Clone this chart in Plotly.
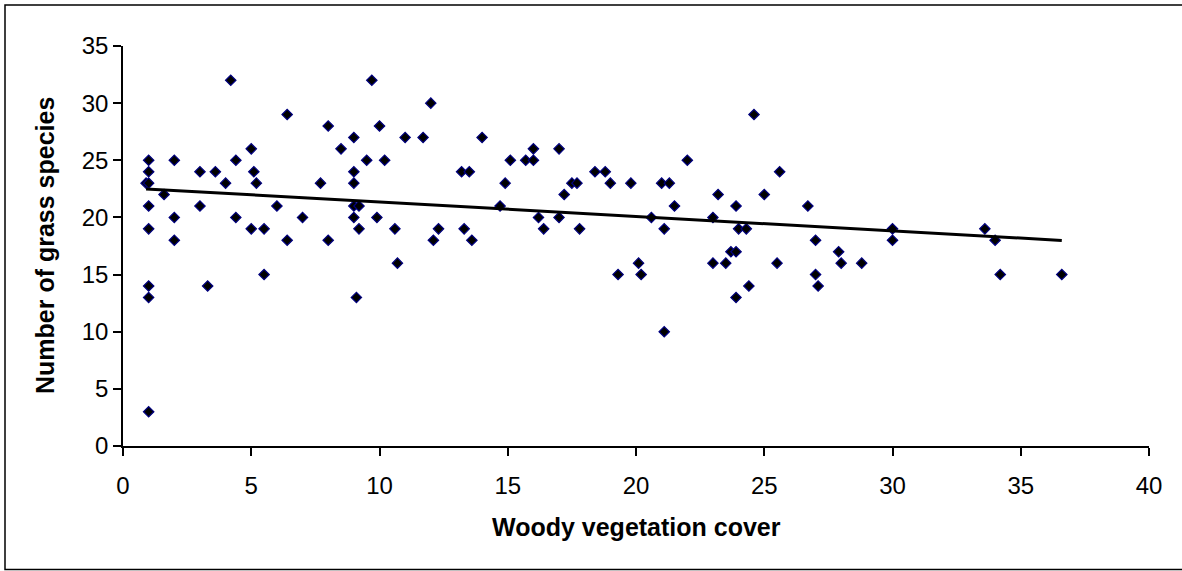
import numpy as np
import plotly.graph_objects as go

# Woody vegetation cover (%) per plot
woody_cover = [
    1, 1, 0.9, 1, 1, 1, 1, 1, 1,
    1.6, 2, 2, 2,
    3, 3, 3.3, 3.6, 4, 4.2, 4.4, 4.4,
    5, 5, 5.1, 5.2, 5.5, 5.5, 6, 6.4, 6.4, 7, 7.7, 8, 8, 8.5,
    9, 9, 9, 9, 9, 9.1,
    9.2, 9.2, 9.7, 9.5, 10, 9.9, 10.2, 10.6, 10.7, 11, 11.7, 12, 12.1, 12.3,
    13.2, 13.5, 13.3, 13.6, 14, 14.7, 14.9, 15.1, 15.7, 16, 16, 16.2, 16.4,
    17, 17, 17.2, 17.5, 17.7, 17.8,
    18.4, 18.8, 19, 19.3, 19.8, 20.1, 20.2, 20.6, 21, 21.3, 21.1, 21.1, 21.5,
    22, 23, 23, 23.2, 23.5, 23.7, 23.9, 23.9, 23.9, 24, 24.3, 24.4, 24.6,
    25, 25.5, 25.6, 26.7, 27, 27, 27.1, 27.9, 28,
    28.8, 30, 30, 33.6, 34, 34.2, 36.6,
]

# Number of grass species recorded in the same plots
grass_species = [
    25, 24, 23, 23, 21, 19, 14, 13, 3,
    22, 25, 20, 18,
    24, 21, 14, 24, 23, 32, 25, 20,
    26, 19, 24, 23, 19, 15, 21, 29, 18, 20, 23, 28, 18, 26,
    27, 24, 23, 21, 20, 13,
    21, 19, 32, 25, 28, 20, 25, 19, 16, 27, 27, 30, 18, 19,
    24, 24, 19, 18, 27, 21, 23, 25, 25, 25, 26, 20, 19,
    26, 20, 22, 23, 23, 19,
    24, 24, 23, 15, 23, 16, 15, 20, 23, 23, 10, 19, 21,
    25, 20, 16, 22, 16, 17, 17, 21, 13, 19, 19, 14, 29,
    22, 16, 24, 21, 18, 15, 14, 17, 16,
    16, 19, 18, 19, 18, 15, 15,
]

x_ticks = [0, 5, 10, 15, 20, 25, 30, 35, 40]
y_ticks = [0, 5, 10, 15, 20, 25, 30, 35]

x_title = "Woody vegetation cover"
y_title = "Number of grass species"

# Least-squares trend line over the observed cover range
slope, intercept = np.polyfit(woody_cover, grass_species, 1)
trend_x = np.array([min(woody_cover), max(woody_cover)])
trend_y = slope * trend_x + intercept

W, H = 1182, 571
M_L, M_R, M_T, M_B = 123, 33, 46, 125
plot_w = W - M_L - M_R
plot_h = H - M_T - M_B


def px_x(p):
    return (p - M_L) / plot_w


def px_y(p):
    return (H - M_B - p) / plot_h


FONT = "Liberation Sans, Arial, sans-serif"

fig = go.Figure()
fig.add_trace(go.Scatter(
    x=woody_cover, y=grass_species, mode="markers",
    marker=dict(symbol="diamond", size=8, color="#000000",
                line=dict(color="#000080", width=1.2)),
    showlegend=False, hoverinfo="x+y",
))
fig.add_trace(go.Scatter(
    x=trend_x, y=trend_y, mode="lines",
    line=dict(color="#000000", width=3),
    showlegend=False, hoverinfo="skip",
))

axis_common = dict(
    showgrid=False, zeroline=False, showline=True,
    linecolor="#000000", linewidth=1.5,
    ticks="outside", ticklen=8, tickwidth=1.5, tickcolor="#000000",
    tickfont=dict(family=FONT, size=24, color="#000000"),
)
fig.update_xaxes(range=[0, 40], tickvals=x_ticks,
                 ticktext=[str(v) for v in x_ticks],
                 ticklabelstandoff=9, **axis_common)
fig.update_yaxes(range=[0, 35], tickvals=y_ticks,
                 ticktext=[str(v) for v in y_ticks], **axis_common)

fig.add_annotation(
    text=f"<b>{x_title}</b>", xref="paper", yref="paper",
    x=0.5, y=px_y(527), xanchor="center", yanchor="middle",
    showarrow=False, font=dict(family=FONT, size=25, color="#000000"),
)
fig.add_annotation(
    text=f"<b>{y_title}</b>", xref="paper", yref="paper",
    x=px_x(45), y=0.5, xanchor="center", yanchor="middle", textangle=-90,
    showarrow=False, font=dict(family=FONT, size=25, color="#000000"),
)

# Chart frame
fig.add_shape(
    type="rect", xref="paper", yref="paper",
    x0=px_x(5), x1=px_x(1195), y0=px_y(569.5), y1=px_y(5),
    line=dict(color="#000000", width=1.5), fillcolor="rgba(0,0,0,0)",
    layer="below",
)

fig.update_layout(
    width=W, height=H,
    margin=dict(l=M_L, r=M_R, t=M_T, b=M_B),
    paper_bgcolor="#ffffff", plot_bgcolor="#ffffff",
    font=dict(family=FONT, color="#000000"),
)

fig.write_html("out.html")
